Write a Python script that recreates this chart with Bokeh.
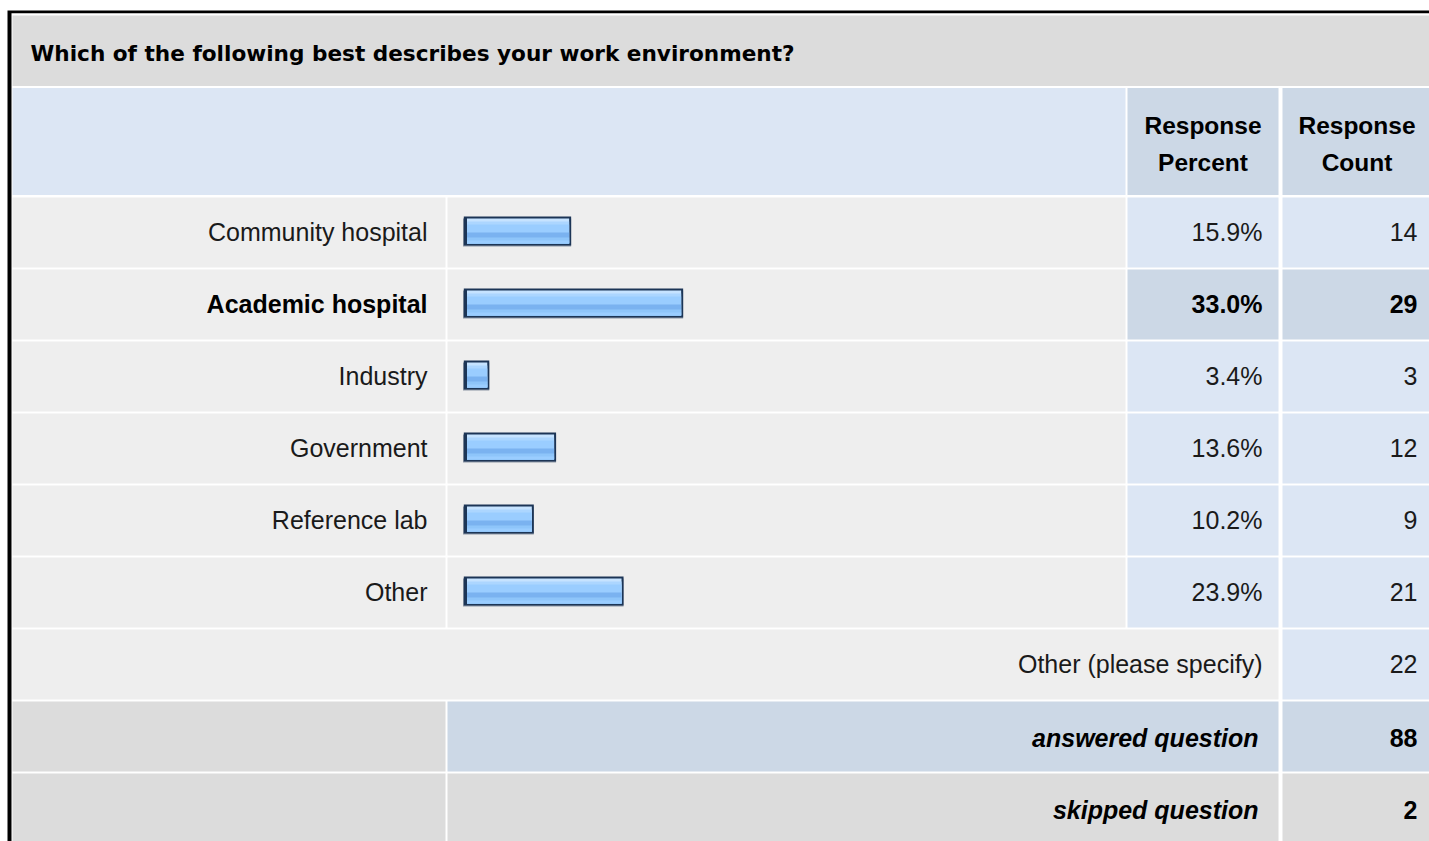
from bokeh.plotting import figure
from bokeh.models import Range1d, ColumnDataSource
from bokeh.embed import file_html
from bokeh.resources import INLINE
from bokeh.core.properties import value

# ---------------- data ----------------
question = "Which of the following best describes your work environment?"
categories = ["Community hospital", "Academic hospital", "Industry",
              "Government", "Reference lab", "Other"]
percents = [15.9, 33.0, 3.4, 13.6, 10.2, 23.9]
counts = [14, 29, 3, 12, 9, 21]
highlighted = "Academic hospital"
header_percent = ["Response", "Percent"]
header_count = ["Response", "Count"]
other_label = "Other (please specify)"
other_count = 22
answered_label = "answered question"
answered_count = 88
skipped_label = "skipped question"
skipped_count = 2

# ---------------- layout / style ----------------
W, H = 1429, 841
FONT = "Liberation Sans"
FS = "25px"
TXT = "#1a1a1a"
GREY = "#dcdcdc"
ROWBG = "#eeeeee"
BLUE = "#dce6f4"
BLUE2 = "#ccd8e6"

LABEL = (12, 445)
BAR = (447, 1125)
PCT = (1127, 1278)
CNT = (1282, 1431)
ROW0, PITCH, RH = 197, 72, 70
DY = -9   # text baseline correction

BAR_ZERO = 466.5     # pixel of 0 %
PX_PER_PCT = 6.55

p = figure(width=W, height=H, x_range=Range1d(0, W), y_range=Range1d(H, 0),
           output_backend="svg", toolbar_location=None, min_border=0,
           x_axis_location=None, y_axis_location=None)
p.grid.visible = False
p.outline_line_color = None
p.background_fill_color = "white"
p.border_fill_color = "white"
p.extra_x_ranges = {"pct": Range1d((0 - BAR_ZERO) / PX_PER_PCT, (W - BAR_ZERO) / PX_PER_PCT)}

cells = dict(left=[], right=[], top=[], bottom=[], color=[])


def cell(col, top, bottom, color):
    cells["left"].append(col[0]); cells["right"].append(col[1])
    cells["top"].append(top); cells["bottom"].append(bottom); cells["color"].append(color)


# frame
p.quad(left=[7], right=[1440], top=[10], bottom=[850], fill_color="black", line_color=None)
p.quad(left=[11], right=[1440], top=[12.7], bottom=[850], fill_color="white", line_color=None)

# title + header rows
cell((LABEL[0], 1440), 15, 85.5, GREY)
cell((LABEL[0], BAR[1]), 87.5, 194.5, BLUE)
cell(PCT, 87.5, 194.5, BLUE2)
cell(CNT, 87.5, 194.5, BLUE2)

n = len(categories)
for i, c in enumerate(categories):
    t = ROW0 + PITCH * i
    hl = c == highlighted
    cell(LABEL, t, t + RH, ROWBG)
    cell(BAR, t, t + RH, ROWBG)
    cell(PCT, t, t + RH, BLUE2 if hl else BLUE)
    cell(CNT, t, t + RH, BLUE2 if hl else BLUE)

t = ROW0 + PITCH * n
cell((LABEL[0], PCT[1]), t, t + RH, ROWBG)
cell(CNT, t, t + RH, BLUE)
t += PITCH
cell(LABEL, t, t + RH, GREY)
cell((BAR[0], PCT[1]), t, t + RH, BLUE2)
cell(CNT, t, t + RH, BLUE2)
t += PITCH
cell(LABEL, t, t + RH + 10, GREY)
cell((BAR[0], PCT[1]), t, t + RH + 10, GREY)
cell(CNT, t, t + RH + 10, GREY)

p.quad(left="left", right="right", top="top", bottom="bottom", fill_color="color",
       line_color=None, source=ColumnDataSource(cells))

# ---------------- bars (in percent units) ----------------
def px(d):
    return d / PX_PER_PCT

tops = [ROW0 + PITCH * i + 19 for i in range(n)]
shadow = ColumnDataSource(dict(l=[px(-4)] * n, r=percents,
                               t=[y + 2 for y in tops], b=[y + 30 for y in tops]))
p.quad(left="l", right="r", top="t", bottom="b", source=shadow, x_range_name="pct",
       fill_color="#8c96a4", line_color=None)
dark = ColumnDataSource(dict(l=[px(-3.2)] * n, r=percents,
                             t=tops, b=[y + 29 for y in tops]))
p.quad(left="l", right="r", top="t", bottom="b", source=dark, x_range_name="pct",
       fill_color="#1c3556", line_color=None)
# gradient stripes: each drawn down to the inner bottom, later ones overlay
stripes = [(2, "#c6e3ff"), (5, "#acd6ff"), (8, "#9acdff"),
           (16, "#7ab2f0"), (21, "#8ec5fa"), (24, "#9acdff")]
for a, col in stripes:
    src = ColumnDataSource(dict(l=[0.0] * n, r=[v - px(2) for v in percents],
                                t=[y + a for y in tops], b=[y + 27 for y in tops]))
    p.quad(left="l", right="r", top="t", bottom="b", source=src, x_range_name="pct",
           fill_color=col, line_color=None)

# ---------------- texts ----------------
def txt(x, y, s, align="right", style="normal", size=FS, color=TXT, font=FONT):
    p.text(x=[x], y=[y + DY], text=[s], text_align=align, text_baseline="alphabetic",
           text_font=value(font), text_font_size=size, text_font_style=style,
           text_color=color)


txt(30, 61.5, question, align="left", style="bold", size="21.6px", color="black",
    font="DejaVu Sans")
pc = (PCT[0] + PCT[1]) / 2
cc = (CNT[0] + CNT[1]) / 2
for x, lines in ((pc, header_percent), (cc, header_count)):
    txt(x, 133.5, lines[0], align="center", style="bold", size="24.5px", color="black")
    txt(x, 170.5, lines[1], align="center", style="bold", size="24.5px", color="black")

for i, c in enumerate(categories):
    t = ROW0 + PITCH * i
    hl = c == highlighted
    st = "bold" if hl else "normal"
    col = "black" if hl else TXT
    txt(427, t + 43.5, c, style=st, color=col)
    txt(1262, t + 43.5, f"{percents[i]:.1f}%", style=st, color=col)
    txt(1417, t + 43.5, str(counts[i]), style=st, color=col)

t = ROW0 + PITCH * n
txt(1262, t + 43.5, other_label)
txt(1417, t + 43.5, str(other_count))
t += PITCH
txt(1258, t + 45, answered_label, style="bold italic", color="black")
txt(1417, t + 45, str(answered_count), style="bold", color="black")
t += PITCH
txt(1258, t + 45, skipped_label, style="bold italic", color="black")
txt(1417, t + 45, str(skipped_count), style="bold", color="black")

open("out.html", "w").write(file_html(p, INLINE))
